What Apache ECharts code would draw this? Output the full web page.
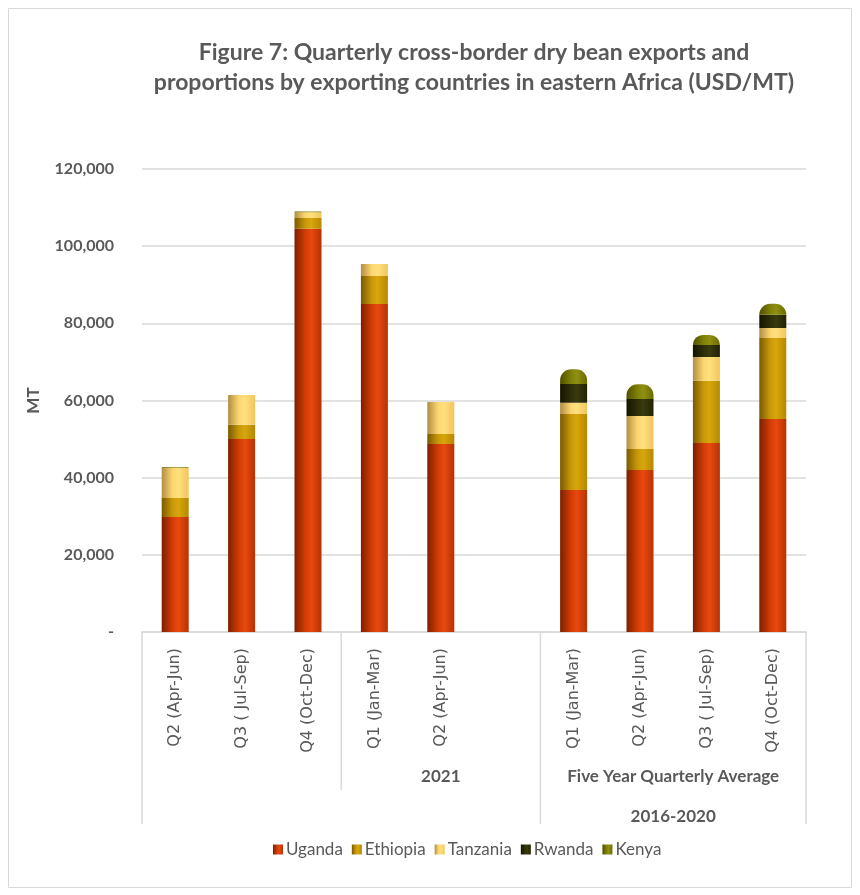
<!DOCTYPE html>
<html>
<head>
<meta charset="utf-8">
<script src="https://cdn.jsdelivr.net/npm/echarts@6/dist/echarts.min.js"></script>
<style>
  html, body { margin: 0; padding: 0; background: #ffffff; }
  #chart { width: 860px; height: 895px; }
</style>
</head>
<body>
<div id="chart"></div>
<script>
// Quarter labels (index 5 is an empty spacer between the two groups)
const categories = ['Q2 (Apr-Jun)', 'Q3 ( Jul-Sep)', 'Q4 (Oct-Dec)', 'Q1 (Jan-Mar)', 'Q2 (Apr-Jun)', '',
                    'Q1 (Jan-Mar)', 'Q2 (Apr-Jun)', 'Q3 ( Jul-Sep)', 'Q4 (Oct-Dec)'];

// Exports by country, MT
const uganda   = [29800, 50000, 104500, 85000, 48700, null, 36800, 42000, 49000, 55200];
const ethiopia = [4900, 3700, 2800, 7300, 2600, null, 19700, 5400, 16100, 21000];
const tanzania = [7800, 7700, 1500, 3100, 8300, null, 2900, 8600, 6200, 2600];
const rwanda   = [0, 0, 0, 0, 0, null, 4900, 4400, 3100, 3400];
const kenya    = [200, 0, 200, 0, 0, null, 3800, 3800, 2600, 2900];

// Group captions beneath the quarter labels: [text, first index, last index, row]
const groupLabels = [
  ['2021', 3, 5, 1],
  ['Five Year Quarterly Average', 6, 9, 1],
  ['2016-2020', 6, 9, 2]
];
// Category boundaries that get a separator, with the row depth they reach
const separators = [[0, 2], [3, 1], [6, 2], [10, 2]];

const GREY = '#595959';

// Horizontal shading so each column reads as a cylinder
function cyl(c0, c1, c2, c3) {
  return new echarts.graphic.LinearGradient(0, 0, 1, 0, [
    { offset: 0, color: c0 },
    { offset: 0.4, color: c1 },
    { offset: 0.62, color: c2 },
    { offset: 1, color: c3 }
  ]);
}

const seriesDefs = [
  { name: 'Uganda',   data: uganda,   color: cyl('#7c2000', '#d23c05', '#e8490f', '#b83203') },
  { name: 'Ethiopia', data: ethiopia, color: cyl('#7a5a00', '#c9980a', '#d8a60c', '#b58800') },
  { name: 'Tanzania', data: tanzania, color: cyl('#b08e45', '#fdd670', '#ffe07e', '#f1c55c') },
  { name: 'Rwanda',   data: rwanda,   color: cyl('#151500', '#2e2e08', '#3a3a10', '#222200') },
  { name: 'Kenya',    data: kenya,    color: cyl('#4f5000', '#7f8006', '#8f9012', '#6a6b00'), radius: [11, 11, 0, 0] }
];

const chart = echarts.init(document.getElementById('chart'), null, { renderer: 'canvas' });

const FONT = 'Lato, "Open Sans", sans-serif';

chart.setOption({
  animation: false,
  backgroundColor: '#ffffff',
  title: {
    text: 'Figure 7: Quarterly cross-border dry bean exports and\nproportions by exporting countries in eastern Africa (USD/MT)',
    left: 469,
    textAlign: 'center',
    top: 33,
    textStyle: { fontFamily: FONT, fontSize: 23, fontWeight: 'bold', color: GREY, lineHeight: 30 }
  },
  legend: {
    bottom: 32,
    left: 268,
    itemWidth: 10,
    itemHeight: 10,
    itemGap: 9,
    icon: 'rect',
    textStyle: { fontFamily: FONT, fontSize: 17, color: GREY, padding: [0, 0, 0, -2] },
    data: seriesDefs.map(s => s.name)
  },
  grid: { left: 142, right: 54, top: 169, bottom: 263 },
  xAxis: {
    type: 'category',
    data: categories,
    axisLine: { show: true, lineStyle: { color: '#D9D9D9', width: 1.5 } },
    axisTick: { show: false },
    axisLabel: {
      interval: 0, rotate: 90, margin: 16,
      fontFamily: '"DejaVu Sans", sans-serif', fontSize: 16, color: GREY
    }
  },
  yAxis: {
    type: 'value',
    min: 0, max: 120000, interval: 20000,
    name: 'MT',
    nameLocation: 'middle',
    nameGap: 100,
    nameTextStyle: { fontFamily: FONT, fontSize: 17, fontWeight: 'bold', color: GREY },
    axisLine: { show: false },
    axisTick: { show: false },
    splitLine: { lineStyle: { color: '#D9D9D9', width: 1.5 } },
    axisLabel: {
      margin: 28,
      fontFamily: FONT, fontSize: 16, fontWeight: 'bold', color: GREY,
      formatter: v => v === 0 ? '-' : v.toLocaleString('en-US')
    }
  },
  series: seriesDefs.map(s => ({
    name: s.name,
    type: 'bar',
    stack: 'total',
    barWidth: 27,
    data: s.data,
    itemStyle: { color: s.color, borderRadius: s.radius || 0 }
  }))
});

// Group captions and separators under the category axis
const baseY = chart.convertToPixel({ yAxisIndex: 0 }, 0);
const x0 = chart.convertToPixel({ xAxisIndex: 0 }, 0);
const x1 = chart.convertToPixel({ xAxisIndex: 0 }, 1);
const band = x1 - x0;
const edge = i => x0 - band / 2 + i * band;
const rowY = [0, baseY + 145, baseY + 185];
const rowBottom = [0, baseY + 158, baseY + 192];

const graphics = [];
separators.forEach(([i, depth]) => {
  graphics.push({
    type: 'line', silent: true,
    shape: { x1: edge(i), y1: baseY, x2: edge(i), y2: rowBottom[depth] },
    style: { stroke: '#D9D9D9', lineWidth: 1.5 }
  });
});
groupLabels.forEach(([text, a, b, row]) => {
  graphics.push({
    type: 'text', silent: true,
    x: (edge(a) + edge(b + 1)) / 2, y: rowY[row],
    style: {
      text, align: 'center', verticalAlign: 'middle',
      fontFamily: FONT, fontSize: 17, fontWeight: 'bold', fill: GREY
    }
  });
});
// Chart area frame
graphics.push({
  type: 'rect', silent: true, z: -10,
  shape: { x: 8.5, y: 8.5, width: 843, height: 879 },
  style: { fill: null, stroke: '#D9D9D9', lineWidth: 1 }
});

chart.setOption({ graphic: graphics });
</script>
</body>
</html>
